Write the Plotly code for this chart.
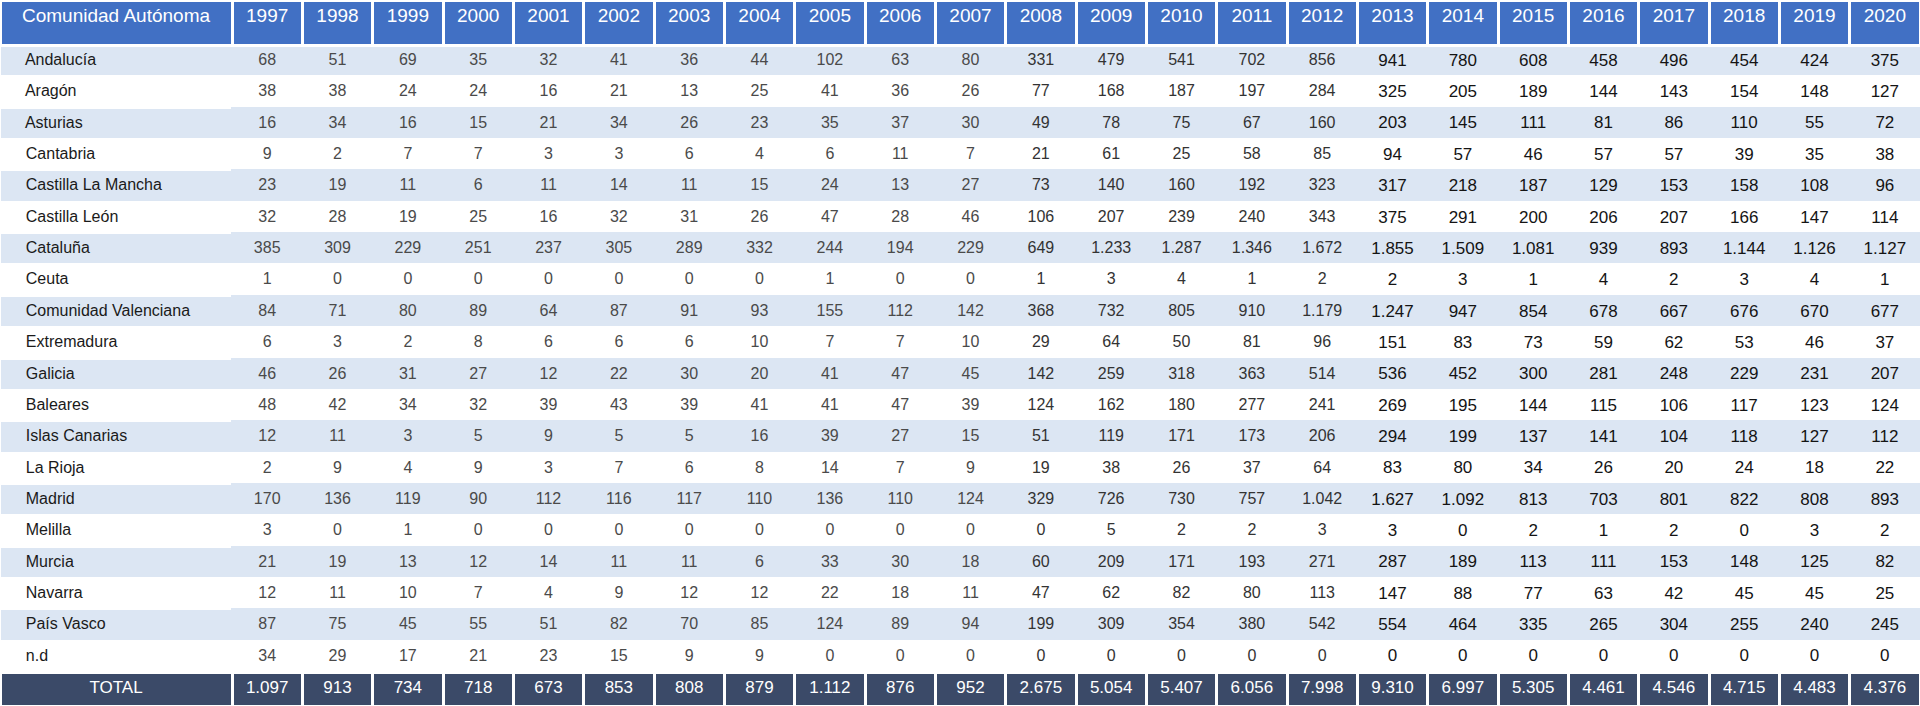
import plotly.graph_objects as go

years = [str(y) for y in range(1997, 2021)]

regions = ["Andalucía", "Aragón", "Asturias", "Cantabria", "Castilla La Mancha",
           "Castilla León", "Cataluña", "Ceuta", "Comunidad Valenciana", "Extremadura",
           "Galicia", "Baleares", "Islas Canarias", "La Rioja", "Madrid", "Melilla",
           "Murcia", "Navarra", "País Vasco", "n.d"]

andalucia = [68, 51, 69, 35, 32, 41, 36, 44, 102, 63, 80, 331, 479, 541, 702, 856, 941, 780, 608, 458, 496, 454, 424, 375]
aragon = [38, 38, 24, 24, 16, 21, 13, 25, 41, 36, 26, 77, 168, 187, 197, 284, 325, 205, 189, 144, 143, 154, 148, 127]
asturias = [16, 34, 16, 15, 21, 34, 26, 23, 35, 37, 30, 49, 78, 75, 67, 160, 203, 145, 111, 81, 86, 110, 55, 72]
cantabria = [9, 2, 7, 7, 3, 3, 6, 4, 6, 11, 7, 21, 61, 25, 58, 85, 94, 57, 46, 57, 57, 39, 35, 38]
castilla_mancha = [23, 19, 11, 6, 11, 14, 11, 15, 24, 13, 27, 73, 140, 160, 192, 323, 317, 218, 187, 129, 153, 158, 108, 96]
castilla_leon = [32, 28, 19, 25, 16, 32, 31, 26, 47, 28, 46, 106, 207, 239, 240, 343, 375, 291, 200, 206, 207, 166, 147, 114]
cataluna = [385, 309, 229, 251, 237, 305, 289, 332, 244, 194, 229, 649, 1233, 1287, 1346, 1672, 1855, 1509, 1081, 939, 893, 1144, 1126, 1127]
ceuta = [1, 0, 0, 0, 0, 0, 0, 0, 1, 0, 0, 1, 3, 4, 1, 2, 2, 3, 1, 4, 2, 3, 4, 1]
valenciana = [84, 71, 80, 89, 64, 87, 91, 93, 155, 112, 142, 368, 732, 805, 910, 1179, 1247, 947, 854, 678, 667, 676, 670, 677]
extremadura = [6, 3, 2, 8, 6, 6, 6, 10, 7, 7, 10, 29, 64, 50, 81, 96, 151, 83, 73, 59, 62, 53, 46, 37]
galicia = [46, 26, 31, 27, 12, 22, 30, 20, 41, 47, 45, 142, 259, 318, 363, 514, 536, 452, 300, 281, 248, 229, 231, 207]
baleares = [48, 42, 34, 32, 39, 43, 39, 41, 41, 47, 39, 124, 162, 180, 277, 241, 269, 195, 144, 115, 106, 117, 123, 124]
canarias = [12, 11, 3, 5, 9, 5, 5, 16, 39, 27, 15, 51, 119, 171, 173, 206, 294, 199, 137, 141, 104, 118, 127, 112]
rioja = [2, 9, 4, 9, 3, 7, 6, 8, 14, 7, 9, 19, 38, 26, 37, 64, 83, 80, 34, 26, 20, 24, 18, 22]
madrid = [170, 136, 119, 90, 112, 116, 117, 110, 136, 110, 124, 329, 726, 730, 757, 1042, 1627, 1092, 813, 703, 801, 822, 808, 893]
melilla = [3, 0, 1, 0, 0, 0, 0, 0, 0, 0, 0, 0, 5, 2, 2, 3, 3, 0, 2, 1, 2, 0, 3, 2]
murcia = [21, 19, 13, 12, 14, 11, 11, 6, 33, 30, 18, 60, 209, 171, 193, 271, 287, 189, 113, 111, 153, 148, 125, 82]
navarra = [12, 11, 10, 7, 4, 9, 12, 12, 22, 18, 11, 47, 62, 82, 80, 113, 147, 88, 77, 63, 42, 45, 45, 25]
pais_vasco = [87, 75, 45, 55, 51, 82, 70, 85, 124, 89, 94, 199, 309, 354, 380, 542, 554, 464, 335, 265, 304, 255, 240, 245]
nd = [34, 29, 17, 21, 23, 15, 9, 9, 0, 0, 0, 0, 0, 0, 0, 0, 0, 0, 0, 0, 0, 0, 0, 0]
total = [1097, 913, 734, 718, 673, 853, 808, 879, 1112, 876, 952, 2675, 5054, 5407, 6056, 7998, 9310, 6997, 5305, 4461, 4546, 4715, 4483, 4376]

rows = [andalucia, aragon, asturias, cantabria, castilla_mancha, castilla_leon, cataluna,
        ceuta, valenciana, extremadura, galicia, baleares, canarias, rioja, madrid,
        melilla, murcia, navarra, pais_vasco, nd]

HEADER_BLUE = "#4170C4"
BAND = "#DCE6F3"
WHITE = "#FFFFFF"
TOTAL_FILL = "#3B4A68"
NAME_TEXT = "#1A1A1A"
FONT = "Liberation Sans, Arial, sans-serif"

W, H = 1920, 706
HEADER_H = 45
TOTAL_H = 34
col_widths = [232] + [70.33] * len(years)


def es(v):
    # Spanish thousands separator
    return f"{v:,}".replace(",", ".")


def col_style(year):
    # the source sheet renders column groups with slightly different text
    if year <= 2007:
        return "#4A4A4A", 16
    if year <= 2012:
        return "#333333", 16
    return "#141414", 17


row_fill = [BAND if i % 2 == 0 else WHITE for i in range(len(rows))]

col_values = [regions]
for j in range(len(years)):
    col_values.append([es(r[j]) for r in rows])

fills = [row_fill[:] for _ in range(len(years) + 1)]
line_colors = [[WHITE] * len(rows)] + [row_fill[:] for _ in years]
cell_h = (H - HEADER_H - TOTAL_H) / len(rows)

font_colors = [NAME_TEXT] + [col_style(int(y))[0] for y in years]
font_sizes = [16] + [col_style(int(y))[1] for y in years]

main = go.Table(
    columnwidth=col_widths,
    header=dict(
        values=["Comunidad Autónoma"] + years,
        fill_color=HEADER_BLUE,
        font=dict(color=WHITE, size=19, family=FONT),
        align="center",
        height=HEADER_H,
        line=dict(color=WHITE, width=3),
    ),
    cells=dict(
        values=col_values,
        prefix=["\u00a0 "] + [""] * len(years),
        fill_color=fills,
        font=dict(color=font_colors, size=font_sizes, family=FONT),
        align=["left"] + ["center"] * len(years),
        height=cell_h,
        line=dict(color=line_colors, width=2),
    ),
    domain=dict(x=[0, 1], y=[TOTAL_H / H, 1]),
)

total_tbl = go.Table(
    columnwidth=col_widths,
    header=dict(
        values=["TOTAL"] + [es(v) for v in total],
        fill_color=TOTAL_FILL,
        font=dict(color=WHITE, size=17, family=FONT),
        align="center",
        height=TOTAL_H,
        line=dict(color=WHITE, width=3),
    ),
    cells=dict(values=[]),
    domain=dict(x=[0, 1], y=[0, TOTAL_H / H]),
)

fig = go.Figure([main, total_tbl])

fig.update_layout(
    width=W, height=H,
    margin=dict(l=0, r=0, t=0, b=0),
    paper_bgcolor="white",
)

fig.write_html("out.html", config={"displayModeBar": False},
               post_script="document.body.style.margin='0';")
